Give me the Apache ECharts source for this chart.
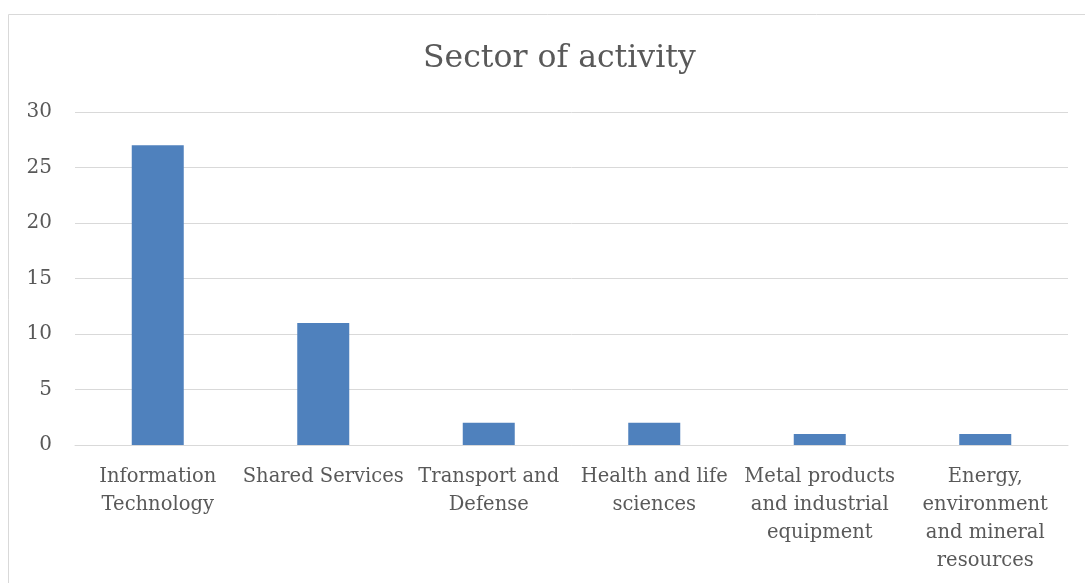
<!DOCTYPE html>
<html><head><meta charset="utf-8">
<script src="https://cdn.jsdelivr.net/npm/echarts@6/dist/echarts.min.js"></script>
<style>html,body{margin:0;padding:0;background:#fff}#c{width:1085px;height:583px}</style>
</head><body><div id="c"></div>
<script>
const categories = ["Information\nTechnology", "Shared Services", "Transport and\nDefense", "Health and life\nsciences", "Metal products\nand industrial\nequipment", "Energy,\nenvironment\nand mineral\nresources"];
const values = [27, 11, 2, 2, 1, 1];
const yTicks = [0, 5, 10, 15, 20, 25, 30];
const titleText = "Sector of activity";

const FONT = "'DejaVu Serif', serif";
const chart = echarts.init(document.getElementById('c'), null, {renderer: 'canvas'});
chart.setOption({
  animation: false,
  graphic: [{type: 'rect', shape: {x: 8.5, y: 14.5, width: 1200, height: 700}, style: {fill: 'none', stroke: '#d9d9d9', lineWidth: 1}}],
  title: {text: titleText, left: 418, top: 38, textStyle: {fontFamily: FONT, fontSize: 31.5, fontWeight: 'normal', color: '#595959'}},
  grid: {left: 75, right: 17, top: 112, bottom: 138},
  xAxis: {type: 'category', data: categories,
    axisLine: {lineStyle: {color: '#d9d9d9', width: 1}}, axisTick: {show: false},
    axisLabel: {interval: 0, fontFamily: FONT, fontSize: 19.5, color: '#595959', lineHeight: 28, margin: 18}},
  yAxis: {type: 'value', min: yTicks[0], max: yTicks[yTicks.length-1], interval: 5,
    axisLine: {show: false}, axisTick: {show: false},
    splitLine: {lineStyle: {color: '#d9d9d9', width: 1}},
    axisLabel: {fontFamily: FONT, fontSize: 20, color: '#595959', margin: 23}},
  series: [{type: 'bar', data: values, barWidth: 52, itemStyle: {color: '#4f81bd'}}]
});
</script></body></html>
